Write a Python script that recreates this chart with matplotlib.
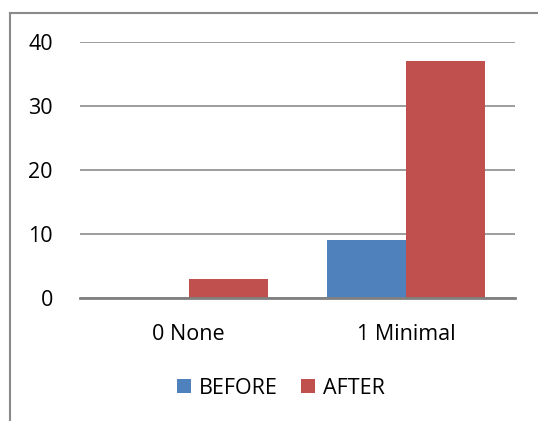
import numpy as np
import matplotlib.pyplot as plt
from matplotlib.lines import Line2D

categories = ['0 None', '1 Minimal']
before = [0, 9]
after = [3, 37]
yticks = [0, 10, 20, 30, 40]

plt.rcParams['font.family'] = ['Open Sans', 'DejaVu Sans']

fig = plt.figure(figsize=(5.38, 4.21), dpi=100)
ax = fig.add_axes([80 / 538, 1 - 298 / 421, 435 / 538, 256 / 421])

x = np.arange(len(categories))
w = 0.363
ax.bar(x - w / 2, before, w, color='#4F81BD', label='BEFORE', zorder=3)
ax.bar(x + w / 2, after, w, color='#C0504D', label='AFTER', zorder=3)

ax.set_xlim(-0.5, 1.5)
ax.set_ylim(0, 40)
ax.set_yticks(yticks)
ax.set_xticks(x)
ax.set_xticklabels(categories)
ax.tick_params(axis='both', length=0, labelsize=15.5, colors='black')
ax.tick_params(axis='y', pad=19.5)
ax.tick_params(axis='x', pad=19)
ax.yaxis.grid(True, color='#8c8c8c', linewidth=1.2, zorder=0)

for side in ['top', 'right', 'left']:
    ax.spines[side].set_visible(False)
ax.spines['bottom'].set_color('#808080')
ax.spines['bottom'].set_linewidth(2)
ax.spines['bottom'].set_zorder(4)

ax.legend(loc='center', bbox_to_anchor=(281 / 538, 1 - 388 / 421),
          bbox_transform=fig.transFigure, ncol=2, frameon=False,
          fontsize=15.5, handlelength=0.65, handleheight=0.65,
          handletextpad=0.35, columnspacing=1.1)

# outer chart border (left and top edges only, the rest is cut off)
bx, by = 9.5 / 538, 1 - 13 / 421
fig.add_artist(Line2D([bx, bx], [-0.1, by], transform=fig.transFigure,
                      color='#8a8a8a', linewidth=1.5))
fig.add_artist(Line2D([bx, 1.1], [by, by], transform=fig.transFigure,
                      color='#8a8a8a', linewidth=1.5))

fig.savefig('out.png', dpi=100)
